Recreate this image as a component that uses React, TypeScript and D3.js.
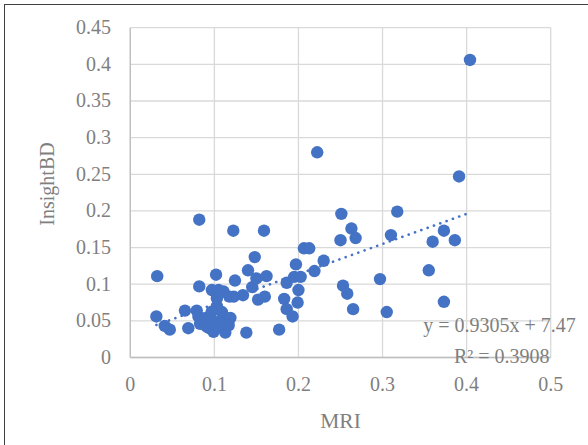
import React from "react";
import * as d3 from "d3";

const mri = [
  0.032, 0.031, 0.041, 0.047, 0.065, 0.069, 0.082, 0.082, 0.079, 0.081,
  0.083, 0.09, 0.094, 0.099, 0.102, 0.097, 0.105, 0.111, 0.103, 0.103,
  0.109, 0.113, 0.119, 0.107, 0.113, 0.117, 0.1225, 0.1245, 0.118, 0.123,
  0.134, 0.138, 0.14, 0.145, 0.148, 0.15, 0.152, 0.159, 0.162, 0.16,
  0.177, 0.183, 0.186, 0.186, 0.193, 0.197, 0.195, 0.2, 0.199, 0.2026,
  0.2223, 0.251, 0.263, 0.268, 0.25, 0.2065, 0.2128, 0.23, 0.219, 0.253,
  0.258, 0.265, 0.297, 0.3175, 0.31, 0.3596, 0.373, 0.386, 0.355, 0.373,
  0.305, 0.391, 0.404, 0.0968, 0.0868, 0.1007, 0.0908, 0.1046,
];
const insightBD = [
  0.111, 0.056, 0.043, 0.038, 0.064, 0.04, 0.188, 0.097, 0.064, 0.056,
  0.046, 0.054, 0.04, 0.035, 0.113, 0.092, 0.092, 0.09, 0.07, 0.081,
  0.062, 0.054, 0.054, 0.047, 0.034, 0.044, 0.173, 0.105, 0.083, 0.083,
  0.085, 0.034, 0.119, 0.096, 0.137, 0.108, 0.079, 0.173, 0.111, 0.083,
  0.038, 0.08, 0.066, 0.102, 0.056, 0.127, 0.11, 0.092, 0.075, 0.11,
  0.28, 0.196, 0.176, 0.163, 0.16, 0.149, 0.149, 0.132, 0.118, 0.098,
  0.087, 0.066, 0.107, 0.199, 0.167, 0.158, 0.173, 0.16, 0.119, 0.076,
  0.062, 0.247, 0.406, 0.0625, 0.0512, 0.0489, 0.042, 0.042,
];
const xTicks = [0, 0.1, 0.2, 0.3, 0.4, 0.5];
const yTicks = [0, 0.05, 0.1, 0.15, 0.2, 0.25, 0.3, 0.35, 0.4, 0.45];
const xTickLabels = ["0", "0.1", "0.2", "0.3", "0.4", "0.5"];
const yTickLabels = ["0", "0.05", "0.1", "0.15", "0.2", "0.25", "0.3", "0.35", "0.4", "0.45"];
const equationLabel = "y = 0.9305x + 7.47";
const r2Label = "R² = 0.3908";
const xTitle = "MRI";
const yTitle = "InsightBD";

const W = 588;
const H = 445;
const FONT = "'Liberation Serif', 'Times New Roman', serif";
const TEXT = "#7f7f7f";
const BLUE = "#4472C4";

export default function App() {
  const x = d3.scaleLinear().domain([0, 0.5]).range([130.3, 550.7]);
  const y = d3.scaleLinear().domain([0, 0.45]).range([357.5, 27.7]);

  const pts = mri.map((m, i) => ({ x: m, y: insightBD[i] }));
  const mx = d3.mean(mri) as number;
  const my = d3.mean(insightBD) as number;
  let sxy = 0, sxx = 0;
  pts.forEach((p) => {
    sxy += (p.x - mx) * (p.y - my);
    sxx += (p.x - mx) * (p.x - mx);
  });
  const slope = sxy / sxx;
  const intercept = my - slope * mx;
  const [x0, x1] = d3.extent(mri) as [number, number];
  const line = d3
    .line<number>()
    .x((d) => x(d))
    .y((d) => y(slope * d + intercept));

  return (
    <svg
      width={W}
      height={H}
      style={{ position: "absolute", left: 0, top: 0, background: "#fff" }}
    >
      <rect x={0} y={0} width={W} height={H} fill="#fff" />
      <rect x={4.5} y={4.5} width={700} height={600} fill="none" stroke="#404040" strokeWidth={1} />
      {yTicks.map((t) => (
        <line key={"gy" + t} x1={x(0)} x2={x(0.5)} y1={y(t)} y2={y(t)} stroke="#d9d9d9" strokeWidth={1.3} />
      ))}
      {xTicks.map((t) => (
        <line key={"gx" + t} x1={x(t)} x2={x(t)} y1={y(0)} y2={y(0.45)} stroke="#d9d9d9" strokeWidth={1.3} />
      ))}
      <line x1={x(0)} x2={x(0.5)} y1={y(0)} y2={y(0)} stroke="#bfbfbf" strokeWidth={1.3} />
      <line x1={x(0)} x2={x(0)} y1={y(0)} y2={y(0.45)} stroke="#bfbfbf" strokeWidth={1.3} />
      {yTicks.map((t, i) => (
        <text key={"ly" + t} x={111} y={y(t) + 6.5} textAnchor="end" fontFamily={FONT} fontSize={20} fill={TEXT}>
          {yTickLabels[i]}
        </text>
      ))}
      {xTicks.map((t, i) => (
        <text key={"lx" + t} x={x(t)} y={391} textAnchor="middle" fontFamily={FONT} fontSize={20} fill={TEXT}>
          {xTickLabels[i]}
        </text>
      ))}
      <text x={340.5} y={428} textAnchor="middle" fontFamily={FONT} fontSize={21.5} fill={TEXT}>
        {xTitle}
      </text>
      <text
        transform={`translate(54,184) rotate(-90)`}
        textAnchor="middle"
        fontFamily={FONT}
        fontSize={20}
        fill={TEXT}
      >
        {yTitle}
      </text>
      {pts.map((p, i) => (
        <circle key={i} cx={x(p.x)} cy={y(p.y)} r={6.2} fill={BLUE} />
      ))}
      <path
        d={line([x0, x1]) || ""}
        fill="none"
        stroke={BLUE}
        strokeWidth={2.6}
        strokeLinecap="round"
        strokeDasharray="0.1 6.6"
      />
      <text x={423.3} y={331.7} fontFamily={FONT} fontSize={20} fill={TEXT}>
        {equationLabel}
      </text>
      <text x={454} y={363} fontFamily={FONT} fontSize={20} fill={TEXT}>
        {r2Label}
      </text>
    </svg>
  );
}
